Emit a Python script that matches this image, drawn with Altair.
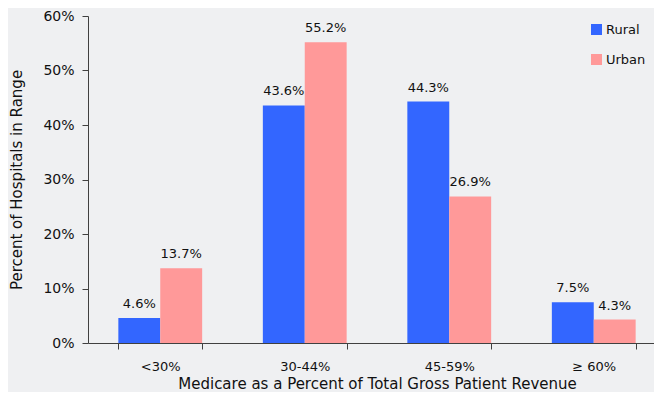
import altair as alt
import pandas as pd

categories = ["<30%", "30-44%", "45-59%", "\u2265 60%"]
series = ["Rural", "Urban"]
rural = [4.6, 43.6, 44.3, 7.5]
urban = [13.7, 55.2, 26.9, 4.3]

rows = []
for i, c in enumerate(categories):
    rows.append({"cat": c, "series": "Rural", "value": rural[i] / 100})
    rows.append({"cat": c, "series": "Urban", "value": urban[i] / 100})
df = pd.DataFrame(rows)

FONT = "DejaVu Sans"
TXT = "#111111"
AX = "#404040"

x = alt.X(
    "cat:N",
    sort=categories,
    scale=alt.Scale(paddingInner=0.42, paddingOuter=0.21, range=[0, 578]),
    axis=alt.Axis(
        title="Medicare as a Percent of Total Gross Patient Revenue",
        labelAngle=0,
        tickBand="extent",
        tickSize=6,
        labelPadding=11,
        titlePadding=3,
        labelFontSize=13,
        titleFontSize=15,
        titleFontWeight="normal",
        domainColor=AX,
        tickColor=AX,
        labelColor=TXT,
        titleColor=TXT,
    ),
)
y = alt.Y(
    "value:Q",
    scale=alt.Scale(domain=[0, 0.6], nice=False),
    axis=alt.Axis(
        title="Percent of Hospitals in Range",
        format=".0%",
        values=[0, 0.1, 0.2, 0.3, 0.4, 0.5, 0.6],
        grid=False,
        tickSize=6,
        labelPadding=8,
        titlePadding=18,
        labelFontSize=14,
        titleFontSize=15,
        titleFontWeight="normal",
        domainColor=AX,
        tickColor=AX,
        labelColor=TXT,
        titleColor=TXT,
    ),
)
color = alt.Color(
    "series:N",
    scale=alt.Scale(domain=series, range=["#3366FF", "#FF9999"]),
    legend=alt.Legend(
        title=None,
        orient="none",
        legendX=502,
        legendY=7,
        symbolType="square",
        symbolSize=121,
        symbolStrokeWidth=0,
        labelFontSize=13,
        labelOffset=3,
        rowPadding=16,
        padding=0,
        labelColor=TXT,
    ),
)

bars = alt.Chart(df).mark_bar(stroke=None).encode(
    x=x,
    xOffset=alt.XOffset("series:N", sort=series),
    y=y,
    color=color,
)
labels = alt.Chart(df).mark_text(baseline="alphabetic", dy=-10, fontSize=13, color=TXT).encode(
    x=alt.X("cat:N", sort=categories),
    xOffset=alt.XOffset("series:N", sort=series),
    y="value:Q",
    text=alt.Text("value:Q", format=".1%"),
)

chart = (
    alt.layer(bars, labels)
    .properties(
        width=566,
        height=327,
        autosize=alt.AutoSizeParams(type="none"),
        padding={"left": 80, "top": 8, "right": 0, "bottom": 49},
    )
    .configure(background="#EFF0F2", font=FONT)
    .configure_view(stroke=None)
)

chart.save("out.html", embed_options={"renderer": "svg", "actions": False})
